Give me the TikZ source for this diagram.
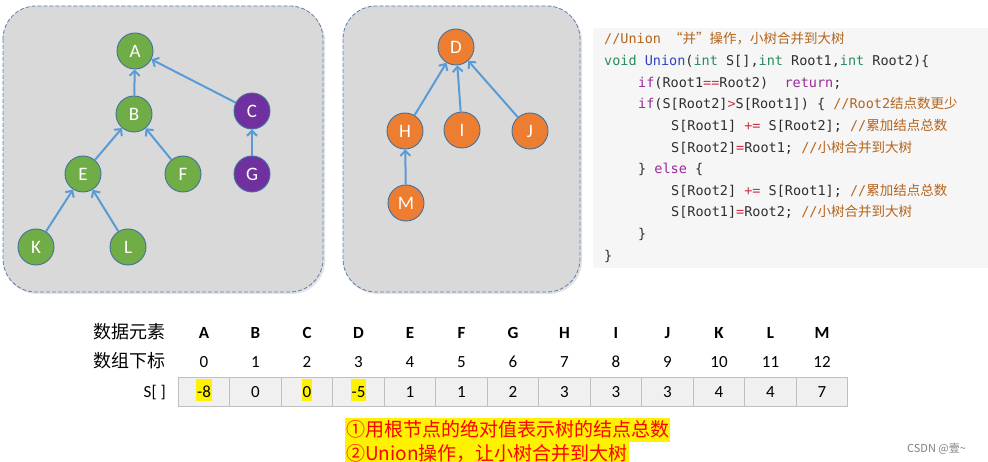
\documentclass[tikz,border=0pt]{standalone}
\usepackage{fontspec}
\setmainfont{Carlito}
\newfontfamily\cjk{Noto Sans CJK SC}
\newfontfamily\codefont{DejaVu Sans Mono}
\usetikzlibrary{arrows.meta, positioning}

\definecolor{treeline}{HTML}{5B9BD5}
\definecolor{nodeborder}{HTML}{41719C}
\definecolor{leafgreen}{HTML}{70AD47}
\definecolor{rootpurple}{HTML}{7030A0}
\definecolor{treeorange}{HTML}{ED7D31}
\definecolor{panelgray}{HTML}{D9D9D9}
\definecolor{paneledge}{HTML}{5A7FAF}
\definecolor{codebg}{HTML}{F6F6F6}
\definecolor{codetext}{HTML}{2E2E2E}
\definecolor{codecom}{HTML}{B5651D}
\definecolor{codetype}{HTML}{2B8A5E}
\definecolor{codefn}{HTML}{2F44C8}
\definecolor{codekw}{HTML}{9A2A9A}
\definecolor{codeop}{HTML}{D0304A}
\definecolor{cellgray}{HTML}{F0F0F0}
\definecolor{celledge}{HTML}{BFBFBF}

\newcommand{\ctype}[1]{\textcolor{codetype}{#1}}
\newcommand{\cfn}[1]{\textcolor{codefn}{#1}}
\newcommand{\ckw}[1]{\textcolor{codekw}{#1}}
\newcommand{\cop}[1]{\textcolor{codeop}{#1}}
\newcommand{\ccom}[1]{\textcolor{codecom}{#1}}

\tikzset{
  panel/.style={fill=panelgray, draw=paneledge, line width=0.8pt,
    dash pattern=on 4pt off 2pt, rounded corners=33pt},
  tnode/.style={circle, draw=nodeborder, line width=0.9pt, minimum size=36pt,
    inner sep=0pt, text=white, font=\fontsize{19}{19}\selectfont},
  link/.style={draw=treeline, line width=2pt,
    -{Straight Barb[length=5pt, width=10pt]}},
  codeline/.style={anchor=base west, inner sep=0pt, text=codetext,
    font=\codefont\fontsize{13.5}{13.5}\selectfont},
  rowlabel/.style={anchor=base east, inner sep=0pt,
    font=\cjk\fontsize{18}{18}\selectfont},
  head/.style={anchor=base, inner sep=0pt, font=\bfseries\fontsize{17}{17}\selectfont},
  idx/.style={anchor=base, inner sep=0pt, font=\fontsize{17}{17}\selectfont},
  cell/.style={draw=celledge, fill=cellgray, line width=0.6pt,
    minimum width=51.5pt, minimum height=29pt, inner sep=0pt},
  cellval/.style={anchor=base, inner xsep=1pt, inner ysep=2pt, text height=16pt,
    text depth=2pt, font=\fontsize{17}{17}\selectfont},
  note/.style={fill=yellow, text=red, inner xsep=1pt, inner ysep=1pt,
    text height=17pt, text depth=5pt, font=\cjk\fontsize{19}{19}\selectfont}
}

\begin{document}
\begin{tikzpicture}[x=1pt, y=-1pt]
  \useasboundingbox (0,0) rectangle (988,462);

  % panels behind the two trees
  \fill[gray!22, rounded corners=33pt] (4,8) rectangle (325,294);
  \draw[panel] (3,6) rectangle (323,292);
  \fill[gray!22, rounded corners=33pt] (344,8) rectangle (582,294);
  \draw[panel] (343,6) rectangle (580,292);

  % first tree (A with C merged in)
  \node[tnode, fill=leafgreen] (A) at (135,51) {A};
  \node[tnode, fill=leafgreen] (B) at (134,114) {B};
  \node[tnode, fill=rootpurple] (C) at (252,111) {C};
  \node[tnode, fill=leafgreen] (E) at (83,174) {E};
  \node[tnode, fill=leafgreen] (F) at (183,174) {F};
  \node[tnode, fill=rootpurple] (G) at (252,174) {G};
  \node[tnode, fill=leafgreen] (K) at (36,247) {K};
  \node[tnode, fill=leafgreen] (L) at (128,247) {L};

  \draw[link] (B) -- (A);
  \draw[link] (C) -- (A);
  \draw[link] (E) -- (B);
  \draw[link] (F) -- (B);
  \draw[link] (G) -- (C);
  \draw[link] (K) -- (E);
  \draw[link] (L) -- (E);

  % second tree
  \node[tnode, fill=treeorange] (D) at (456,47) {D};
  \node[tnode, fill=treeorange] (H) at (405,131) {H};
  \node[tnode, fill=treeorange] (I) at (462,130) {I};
  \node[tnode, fill=treeorange] (J) at (530,131) {J};
  \node[tnode, fill=treeorange] (M) at (406,203) {M};

  \draw[link] (H) -- (D);
  \draw[link] (I) -- (D);
  \draw[link] (J) -- (D);
  \draw[link] (M) -- (H);

  % code listing
  \fill[codebg] (593,28) rectangle (988,268);
  \node[codeline] (c1) at (604,44) {\ccom{//Union {\cjk “并”操作，小树合并到大树}}};
  \node[codeline] (c2) at (604,66) {\ctype{void} \cfn{Union}(\ctype{int} S[],\ctype{int} Root1,\ctype{int} Root2)\{};
  \node[codeline] (c3) at (638,87.5) {\ckw{if}(Root1\cop{==}Root2)\ \ \ckw{return};};
  \node[codeline] (c4) at (638,109) {\ckw{if}(S[Root2]\cop{>}S[Root1]) \{ \ccom{//Root2{\cjk 结点数更少}}};
  \node[codeline] (c5) at (671,131) {S[Root1] \cop{+=} S[Root2]; \ccom{//{\cjk 累加结点总数}}};
  \node[codeline] (c6) at (671,152.5) {S[Root2]\cop{=}Root1; \ccom{//{\cjk 小树合并到大树}}};
  \node[codeline] (c7) at (638,174) {\} \ckw{else} \{};
  \node[codeline] (c8) at (671,196) {S[Root2] \cop{+=} S[Root1]; \ccom{//{\cjk 累加结点总数}}};
  \node[codeline] (c9) at (671,217) {S[Root1]\cop{=}Root2; \ccom{//{\cjk 小树合并到大树}}};
  \node[codeline] (c10) at (638,239) {\}};
  \node[codeline] (c11) at (604,261) {\}};

  % array S[]
  \node[rowlabel] (lab1) at (166,338) {数据元素};
  \node[rowlabel] (lab2) at (166,367) {数组下标};
  \node[rowlabel, font=\fontsize{17}{17}\selectfont] (lab3) at (166,397) {S[ ]};

  \foreach \l [count=\i from 0] in {A,B,C,D,E,F,G,H,I,J,K,L,M} {
    \node[head] (h\i) at ({204+51.5*\i},338) {\l};
    \node[idx] (n\i) at ({204+51.5*\i},367) {\i};
  }
  \foreach \v/\h [count=\i from 0] in {-8/yellow,0/none,0/yellow,-5/yellow,1/none,1/none,
      2/none,3/none,3/none,3/none,4/none,4/none,7/none} {
    \node[cell] (s\i) at ({204+51.5*\i},391.5) {};
    \node[cellval, fill=\h] (v\i) at ({204+51.5*\i},397) {\v};
  }

  % notes
  \node[note, anchor=west] (note1) at (345,430) {①用根节点的绝对值表示树的结点总数};
  \node[note, anchor=north west] (note2) at (note1.south west) {②Union操作，让小树合并到大树};

  \node[anchor=base west, text=gray, inner sep=0pt, font=\cjk\fontsize{11}{11}\selectfont]
    (mark) at (907,452) {CSDN @壹\textasciitilde};
\end{tikzpicture}
\end{document}
